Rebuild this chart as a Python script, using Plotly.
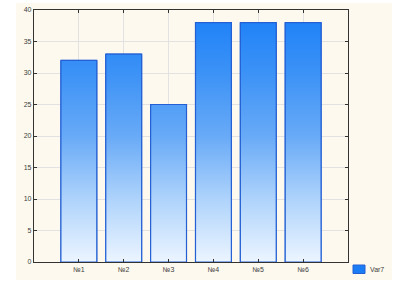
import plotly.graph_objects as go

categories = ["№1", "№2", "№3", "№4", "№5", "№6"]
values = [32, 33, 25, 38, 38, 38]
series_name = "Var7"
y_ticks = [0, 5, 10, 15, 20, 25, 30, 35, 40]

BAR_W = 0.8
EDGE = "#2460d4"
LEGEND_FILL = "#1a7df5"
GRADIENT = [[0, "#ecf5ff"], [0.25, "#aed3fb"], [0.5, "#68aaf7"],
            [0.75, "#3c92f6"], [1, "#1a7ff8"]]

fig = go.Figure()
xs = list(range(len(categories)))

# base bars
fig.add_trace(go.Bar(x=xs, y=values, width=BAR_W, name=series_name,
                     marker=dict(color=LEGEND_FILL, line=dict(color=EDGE, width=1)),
                     showlegend=False))

# gradient overlays built from the data
for i, v in zip(xs, values):
    fig.add_trace(go.Scatter(
        x=[i - BAR_W / 2, i + BAR_W / 2, i + BAR_W / 2, i - BAR_W / 2, i - BAR_W / 2],
        y=[0, 0, v, v, 0],
        mode="lines", fill="toself",
        fillgradient=dict(type="vertical", start=0, stop=40, colorscale=GRADIENT),
        line=dict(color=EDGE, width=1.2),
        showlegend=False, hoverinfo="skip"))

L, R, T, B = 34, 348, 10, 262
W, H = 400, 284

def px_x(p):
    return (p - L) / (R - L)

def px_y(p):
    return (B - p) / (B - T)

fig.update_layout(
    width=W, height=H,
    margin=dict(l=L, r=W - R, t=T, b=H - B, autoexpand=False),
    paper_bgcolor="white", plot_bgcolor="white",
    font=dict(family="Liberation Sans, Arial", size=7, color="#404040"),
    showlegend=False,
    shapes=[
        dict(type="rect", xref="paper", yref="paper", layer="below",
             x0=px_x(16), x1=px_x(392), y0=px_y(280), y1=px_y(3),
             fillcolor="#fdf9ee", line=dict(width=0)),
        # legend swatch
        dict(type="rect", xref="paper", yref="paper",
             x0=px_x(353), x1=px_x(365), y0=px_y(273.5), y1=px_y(265),
             fillcolor=LEGEND_FILL, line=dict(color=EDGE, width=1)),
    ],
    annotations=[
        dict(text=series_name, xref="paper", yref="paper",
             x=px_x(367.5), y=px_y(269.3), xanchor="left", yanchor="middle",
             showarrow=False, font=dict(size=7, color="#404040")),
    ],
    xaxis=dict(range=[-1, len(categories)], tickvals=xs, ticktext=categories,
               showgrid=True, gridcolor="#e2e2e2", gridwidth=1,
               showline=True, linecolor="#333333", linewidth=1.2, mirror="ticks",
               ticks="inside", ticklen=3, tickcolor="#333333", zeroline=False),
    yaxis=dict(range=[0, 40], tickvals=y_ticks,
               showgrid=True, gridcolor="#e2e2e2", gridwidth=1,
               showline=True, linecolor="#333333", linewidth=1.2, mirror="ticks",
               ticks="inside", ticklen=3, tickcolor="#333333", zeroline=False),
)

fig.write_html("out.html")
